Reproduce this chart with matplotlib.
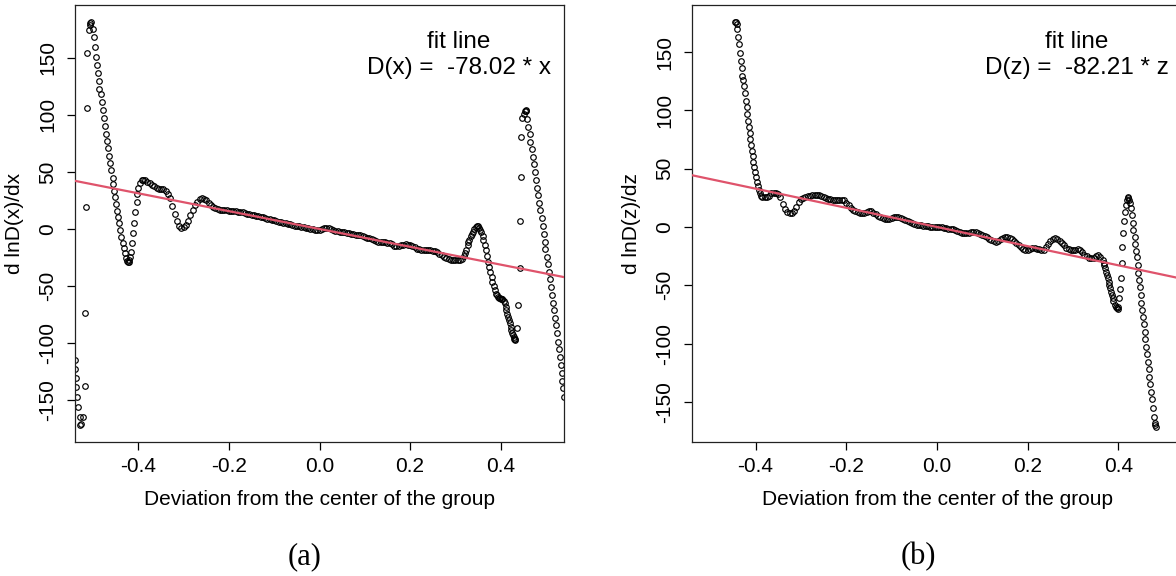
import numpy as np
import matplotlib.pyplot as plt

plt.rcParams['font.family'] = ['Liberation Sans', 'DejaVu Sans']

FIT_RED = '#DF536B'
X_TICKS = [-0.4, -0.2, 0.0, 0.2, 0.4]
X_TICK_LABELS = ['-0.4', '-0.2', '0.0', '0.2', '0.4']
Y_TICKS = [-150, -100, -50, 0, 50, 100, 150]
Y_TICK_LABELS = ['-150', '-100', '-50', '0', '50', '100', '150']
XLABEL = 'Deviation from the center of the group'

# ── panel (a): d lnD(x)/dx ────────────────────────────────────────────────
A_SLOPE = -78.02
A_YLABEL = 'd lnD(x)/dx'
A_FIT_TEXT = 'fit line\nD(x) =  -78.02 * x'

# left edge spike (x, y)
A_LEFT = [(-0.540, -114.7), (-0.539, -122.9), (-0.538, -130.7), (-0.538, -138.6),
          (-0.536, -147.4), (-0.533, -156.1), (-0.530, -164.2), (-0.528, -171.6),
          (-0.527, -170.5), (-0.522, -164.9), (-0.519, -137.5), (-0.518, -73.3),
          (-0.516, 19.5), (-0.514, 105.7), (-0.513, 154.4), (-0.510, 174.3),
          (-0.507, 179.0), (-0.506, 180.5), (-0.505, 181.5),
          (-0.501, 174.9), (-0.499, 167.8), (-0.496, 159.0), (-0.493, 150.9),
          (-0.491, 143.6), (-0.490, 136.9), (-0.488, 129.9), (-0.486, 122.3),
          (-0.483, 118.2), (-0.481, 111.5), (-0.478, 104.2), (-0.477, 97.0),
          (-0.474, 90.2), (-0.471, 83.2), (-0.469, 77.3), (-0.467, 70.7),
          (-0.465, 64.2), (-0.463, 58.1), (-0.460, 51.7), (-0.457, 44.9),
          (-0.455, 39.1), (-0.454, 33.3), (-0.452, 27.8), (-0.449, 21.9),
          (-0.447, 16.0), (-0.444, 10.2), (-0.442, 5.0), (-0.440, -0.9),
          (-0.438, -7.3), (-0.435, -12.5), (-0.432, -16.9), (-0.429, -21.3),
          (-0.427, -25.7), (-0.425, -28.0), (-0.423, -29.2), (-0.421, -28.5),
          (-0.420, -27.0), (-0.418, -24.2), (-0.416, -19.9), (-0.415, -12.5),
          (-0.412, -3.8), (-0.409, 5.5), (-0.407, 14.9), (-0.404, 23.6),
          (-0.403, 30.6), (-0.400, 36.2), (-0.396, 40.5), (-0.393, 42.5)]

# dense band, regular grid
A_BAND_X0 = -0.390
A_BAND_STEP = 0.005
A_BAND_Y = [43, 42.5, 41, 40, 38.8, 37.5, 35.8, 35, 34.8, 35.2,          # -0.390
            33.5, 31, 27, 20, 13, 7, 3, 1, 1.5, 3.5,                     # -0.340
            7, 12.5, 17, 21, 24, 26, 27, 26.5, 25, 23,                   # -0.290
            21, 19, 18, 17.3, 17, 16.8, 16.5, 16.3, 16, 16,              # -0.240
            15.8, 15.5, 15.3, 15, 14.5, 13.8, 13.2, 12.8, 12.5, 12,      # -0.190
            11.5, 11, 10.8, 10.3, 9.6, 9, 8.4, 7.9, 7.5, 7,              # -0.140
            6.5, 6, 5.6, 5, 4.6, 4, 3.5, 3, 2.6, 2.2,                    # -0.090
            2, 1.6, 1.2, 0.8, 0.3, -0.2, -0.7, -0.9, -0.5, 0.4,          # -0.040
            1, 1.2, 0.6, -0.3, -1, -1.6, -2.2, -2.5, -2.8, -3,           #  0.010
            -3.4, -3.8, -4.2, -4.6, -5, -5.2, -5.5, -6.1, -6.8, -7.5,    #  0.060
            -8.2, -9, -9.8, -10.4, -11, -11.3, -11.6, -11.8, -12, -12.5, #  0.110
            -13.5, -14.5, -14.9, -14.6, -14, -13.6, -13.4, -13.6, -14.2, -15,
            -16.2, -17.2, -17.8, -18, -18.2, -18.3, -18.4, -18.6, -19, -19.6,
            -20.5, -21.9, -23, -24.5, -25.5, -26.4, -26.8, -27, -27.1, -27.1,
            -27, -26.2, -24]

# right side: bump, dip and spike (x, y)
A_RIGHT = [(0.322, -21.0), (0.324, -18.4), (0.327, -14.0), (0.329, -11.5),
           (0.331, -9.6), (0.334, -6.5), (0.337, -4.0), (0.339, -2.3),
           (0.342, 0.0), (0.345, 2.0), (0.348, 2.9), (0.350, 2.4), (0.352, 1.0),
           (0.355, -0.8), (0.357, -2.3), (0.360, -6.0), (0.362, -9.6),
           (0.365, -14.0), (0.367, -18.4), (0.370, -24.0), (0.372, -28.6),
           (0.375, -33.0), (0.377, -37.4), (0.380, -42.0), (0.382, -46.1),
           (0.385, -50.0), (0.387, -53.4), (0.390, -56.5), (0.392, -58.0),
           (0.394, -59.3), (0.396, -60.0), (0.398, -60.5), (0.400, -61.0),
           (0.402, -61.2), (0.404, -61.6), (0.407, -63.0), (0.409, -65.1),
           (0.411, -68.0), (0.413, -70.9), (0.415, -74.0), (0.416, -76.8),
           (0.418, -79.5), (0.420, -82.6), (0.422, -85.5), (0.424, -88.4),
           (0.426, -91.0), (0.427, -92.8), (0.429, -95.0), (0.430, -96.5),
           (0.431, -97.2), (0.432, -96.0),
           (0.436, -86.4), (0.439, -66.6), (0.442, -33.9), (0.443, 7.3),
           (0.444, 45.8), (0.446, 80.8), (0.448, 97.0), (0.451, 101.0),
           (0.453, 103.0), (0.455, 104.2), (0.456, 103.5),
           (0.458, 96.1), (0.460, 89.6), (0.464, 83.2), (0.466, 76.5),
           (0.469, 69.8), (0.471, 63.3), (0.474, 56.9), (0.476, 50.2),
           (0.479, 42.9), (0.480, 36.2), (0.483, 29.8), (0.485, 23.0),
           (0.488, 16.6), (0.491, 9.4), (0.493, 2.6), (0.495, -4.4),
           (0.497, -11.1), (0.499, -17.8), (0.502, -24.2), (0.505, -30.6),
           (0.507, -37.4), (0.508, -44.0), (0.511, -50.5), (0.514, -57.8),
           (0.516, -64.5), (0.519, -70.9), (0.521, -77.7), (0.523, -84.1),
           (0.525, -91.3), (0.527, -98.7), (0.530, -105.3), (0.532, -111.8),
           (0.533, -119.1), (0.535, -125.8), (0.536, -132.8), (0.538, -139.5),
           (0.539, -146.8)]

# ── panel (b): d lnD(z)/dz ────────────────────────────────────────────────
B_SLOPE = -82.21
B_YLABEL = 'd lnD(z)/dz'
B_FIT_TEXT = 'fit line\nD(z) =  -82.21 * z'

B_LEFT = [(-0.4454, 176.1), (-0.4440, 175.5), (-0.4417, 174.1), (-0.4403, 169.8),
          (-0.4381, 163.2), (-0.4366, 156.7), (-0.4344, 149.5), (-0.4329, 142.6),
          (-0.4307, 136.1), (-0.4293, 129.5), (-0.4271, 126.1), (-0.4256, 120.9),
          (-0.4227, 114.7), (-0.4212, 108.3), (-0.4196, 102.7), (-0.4182, 96.9),
          (-0.4167, 91.2), (-0.4145, 85.5), (-0.4130, 80.4), (-0.4116, 75.2),
          (-0.4101, 70.3), (-0.4086, 65.4), (-0.4064, 60.9), (-0.4049, 56.0),
          (-0.4035, 51.7), (-0.4013, 47.4), (-0.3991, 43.1), (-0.3976, 38.8),
          (-0.3954, 35.2), (-0.3932, 31.7), (-0.3903, 28.9), (-0.3880, 27.0)]

B_BAND_X0 = -0.385
B_BAND_STEP = 0.005
B_BAND_Y = [26, 25.3, 25.8, 27, 28.8, 29.2, 29.4, 28.5, 25.5, 20,          # -0.385
            15.5, 13, 12, 11.7, 13.5, 17.5, 21.5, 23.8, 25.2, 26,          # -0.335
            26.5, 27, 27.3, 27.4, 27.5, 27.4, 27, 26, 25, 24.3,            # -0.285
            23.8, 23.5, 23.3, 23.2, 23.2, 23.2, 22.8, 21, 18.5, 16.2,      # -0.235
            14.8, 13.6, 12.8, 12, 11.8, 12.3, 13.2, 13.8, 13.5, 12.3,      # -0.185
            10.8, 9.5, 8.5, 7.6, 6.9, 6.6, 7, 7.8, 8.5, 8.8,               # -0.135
            8.6, 8, 7.2, 6.3, 5.4, 4.2, 3.1, 2.4, 1.8, 1.5,                # -0.085
            1.3, 1.1, 0.9, 0.6, 0.4, 0.3, 0.3, 0.3, 0.2, -0.2,             # -0.035
            -0.6, -1, -1.3, -1.6, -2, -2.8, -3.6, -4.4, -5.1, -5.5,        #  0.015
            -5.4, -5, -4.6, -4.3, -4.3, -4.8, -5.9, -6.8, -7.6, -8.6,      #  0.065
            -10, -11.3, -12.3, -12.5, -11.6, -10.3, -9.3, -8.8, -8.8, -9.4,
            -10.6, -12.2, -13.6, -15.5, -17.4, -19, -19.7, -19.4, -18.8, -18.4,
            -18.3, -18.5, -19, -19.5, -19.6, -17.5, -14.5, -12.2, -10.3, -9.7,
            -10.5, -12.3, -14, -15.8, -17.6, -19.2, -19.7, -19.6, -19.3, -19.1,
            -19.8, -21.5, -23.6, -25.2, -26.3, -26.8, -26.3, -25, -24.1, -25.5, -28]

B_RIGHT = [(0.367, -31.0), (0.368, -32.6), (0.370, -35.5), (0.373, -38.3),
           (0.375, -41.0), (0.376, -44.0), (0.378, -47.0), (0.380, -49.7),
           (0.382, -52.5), (0.384, -55.5), (0.386, -58.5), (0.387, -61.2),
           (0.389, -63.5), (0.392, -66.9), (0.394, -68.3), (0.396, -69.7),
           (0.398, -70.6), (0.400, -68.5), (0.402, -61.2), (0.4035, -53.4),
           (0.4057, -44.0), (0.4070, -31.1), (0.4087, -16.9), (0.4094, -5.4),
           (0.4123, 5.4), (0.4145, 13.1), (0.4160, 18.9), (0.4183, 23.2),
           (0.4200, 25.0), (0.4218, 25.5), (0.4235, 23.5), (0.4256, 20.8),
           (0.4278, 16.0), (0.4293, 10.3), (0.4315, 3.7), (0.4329, -2.6),
           (0.4359, -8.3), (0.4373, -14.6), (0.4388, -20.3), (0.4403, -26.0),
           (0.4425, -32.6), (0.4439, -39.2), (0.4461, -45.5), (0.4476, -51.7),
           (0.4491, -58.3), (0.4506, -64.9), (0.4528, -71.2), (0.4542, -76.9),
           (0.4557, -83.2), (0.4580, -89.8), (0.4594, -96.3), (0.4609, -102.6),
           (0.4631, -108.9), (0.4646, -115.5), (0.4668, -122.0), (0.4683, -128.4),
           (0.4705, -134.6), (0.4720, -141.2), (0.4742, -147.8), (0.4764, -155.5),
           (0.4787, -162.7), (0.4810, -168.3), (0.4824, -171.3), (0.4815, -170.0)]


def collect(left, band_x0, band_step, band_y, right):
    lx, ly = np.array(left).T
    bx = band_x0 + band_step * np.arange(len(band_y))
    rx, ry = np.array(right).T
    return np.concatenate([lx, bx, rx]), np.concatenate([ly, band_y, ry])


def draw_panel(ax, x, y, slope, ylabel, fit_text, ylim, text_y):
    ax.plot(x, y, 'o', ms=4.0, mfc='none', mec='black', mew=0.85, zorder=2)
    ax.axline((0, 0), slope=slope, color=FIT_RED, lw=1.6, zorder=3)
    ax.set_xlim(-0.54, 0.54)
    ax.set_ylim(*ylim)
    ax.set_xticks(X_TICKS, X_TICK_LABELS)
    ax.set_yticks(Y_TICKS, Y_TICK_LABELS)
    ax.tick_params(axis='both', direction='out', length=6, width=0.9,
                   labelsize=15, colors='black')
    ax.tick_params(axis='x', pad=4.5)
    ax.tick_params(axis='y', pad=6.8, labelrotation=90)
    for lab in ax.get_yticklabels():
        lab.set_va('center')
    for sp in ax.spines.values():
        sp.set_linewidth(0.9)
        sp.set_color('#222222')
    ax.set_xlabel(XLABEL, fontsize=15, va='center')
    ax.xaxis.set_label_coords(0.5, -0.1327)
    ax.set_ylabel(ylabel, fontsize=15, va='center')
    ax.yaxis.set_label_coords(-0.1227, 0.5)
    ax.text(0.308, text_y, fit_text, ha='center', va='center',
            multialignment='center', fontsize=17.5, linespacing=1.25)


fig = plt.figure(figsize=(11.76, 5.76), dpi=100)
ax_a = fig.add_axes([75 / 1176, 134 / 576, 489 / 1176, 437 / 576])
ax_b = fig.add_axes([692 / 1176, 134 / 576, 490 / 1176, 437 / 576])

xa, ya = collect(A_LEFT, A_BAND_X0, A_BAND_STEP, A_BAND_Y, A_RIGHT)
xb, yb = collect(B_LEFT, B_BAND_X0, B_BAND_STEP, B_BAND_Y, B_RIGHT)

draw_panel(ax_a, xa, ya, A_SLOPE, A_YLABEL, A_FIT_TEXT, (-186.5, 196.1), 152.4)
draw_panel(ax_b, xb, yb, B_SLOPE, B_YLABEL, B_FIT_TEXT, (-184.4, 190.4), 147.5)

fig.text(305 / 1176, 1 - 557 / 576, '(a)', ha='center', va='center',
         fontsize=22, family=['Liberation Serif', 'DejaVu Serif'])
fig.text(918 / 1176, 1 - 557 / 576, '(b)', ha='center', va='center',
         fontsize=22, family=['Liberation Serif', 'DejaVu Serif'])

fig.savefig('out.png', dpi=100)
